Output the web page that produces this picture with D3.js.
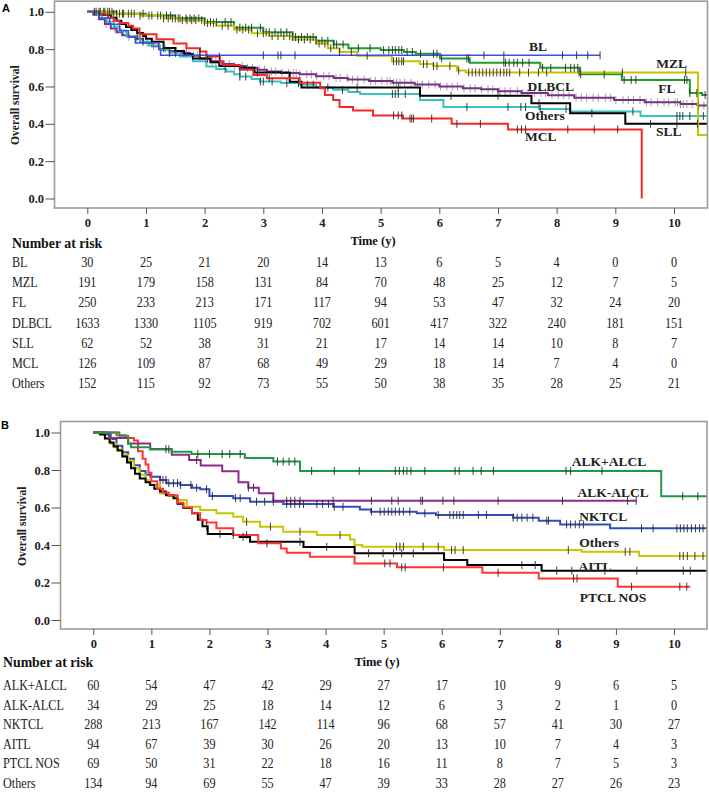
<!DOCTYPE html>
<html><head><meta charset="utf-8">
<script src="https://cdn.jsdelivr.net/npm/d3@7"></script>
<style>body{margin:0;background:#fff}svg{display:block}</style>
</head><body><svg id="c" width="709" height="793"></svg>
<script>
// ---------------- DATA ----------------
const timeTicks = [0,1,2,3,4,5,6,7,8,9,10];
const survTicks = [0,0.2,0.4,0.6,0.8,1.0];

// Panel A groups
const groupsA = ["BL","MZL","FL","DLBCL","SLL","MCL","Others"];
const riskA_BL     = [30,25,21,20,14,13,6,5,4,0,0];
const riskA_MZL    = [191,179,158,131,84,70,48,25,12,7,5];
const riskA_FL     = [250,233,213,171,117,94,53,47,32,24,20];
const riskA_DLBCL  = [1633,1330,1105,919,702,601,417,322,240,181,151];
const riskA_SLL    = [62,52,38,31,21,17,14,14,10,8,7];
const riskA_MCL    = [126,109,87,68,49,29,18,14,7,4,0];
const riskA_Others = [152,115,92,73,55,50,38,35,28,25,21];

// KM steps [time, survival after drop]
const curveA_BL = [[0,1],[0.2,0.967],[0.38,0.933],[0.55,0.9],[0.7,0.867],[0.82,0.833],[1.22,0.8],[1.25,0.767]];
const endA_BL = 8.74;
const censA_BL = [1.92,3.0,3.25,3.3,3.54,6.76,7.1,8.1,8.34,8.53,8.74];

const curveA_MZL = [[0,1],[0.4,0.99],[0.9,0.98],[1.3,0.965],[1.6,0.955],[2.0,0.94],[2.2,0.925],[2.5,0.905],[2.8,0.885],[3.1,0.87],[3.5,0.852],[3.9,0.83],[4.1,0.805],[4.3,0.785],[4.6,0.765],[5.19,0.735],[5.67,0.72],[5.9,0.71],[6.3,0.686],[6.45,0.675],[10.41,0.34]];
const endA_MZL = 10.58;
const censA_MZL = [0.15,0.22,0.3,0.38,0.45,0.55,0.62,0.75,0.9,1.05,1.2,1.3,1.38,1.45,1.55,1.62,1.7,1.78,1.85,1.95,2.05,2.15,2.3,2.4,2.55,2.65,2.75,2.9,3.0,3.15,3.25,3.35,3.45,3.6,3.7,3.8,3.95,4.05,4.15,4.3,4.5,4.77,5.22,5.27,5.31,5.36,5.39,5.73,5.79,5.9,5.96,6.18,6.33,6.5,6.56,6.62,6.68,6.74,6.8,6.86,6.92,6.98,7.04,7.1,7.15,7.2,7.37,7.52,7.69,7.83,8.38,9.12,10.2];

const curveA_FL = [[0,1],[0.5,0.99],[1.0,0.98],[1.5,0.965],[2.0,0.945],[2.5,0.915],[3.0,0.89],[3.5,0.865],[3.9,0.845],[4.2,0.825],[4.45,0.805],[5.0,0.795],[5.4,0.785],[5.6,0.775],[6.01,0.75],[6.52,0.727],[7.72,0.70],[8.40,0.665],[9.11,0.635],[10.27,0.565],[10.48,0.555]];
const endA_FL = 10.58;
const censA_FL = [0.12,0.2,0.28,0.35,0.42,0.5,0.6,0.7,0.8,0.95,1.1,1.25,1.35,1.42,1.5,1.58,1.68,1.75,1.82,1.9,2.0,2.1,2.2,2.35,2.45,2.6,2.7,2.8,2.95,3.05,3.1,3.2,3.3,3.4,3.5,3.55,3.65,3.75,3.85,3.9,4.0,4.1,4.2,4.25,4.36,4.62,4.82,5.05,5.14,5.2,5.25,5.31,5.36,5.45,5.54,5.68,5.9,5.96,6.04,6.47,6.5,7.1,7.13,7.19,7.27,7.33,7.42,7.53,7.76,7.9,8.15,8.24,8.3,8.36,8.41,8.81,9.15,9.27,9.35,10.18,10.22,10.27,10.39,10.53];

const curveA_DLBCL = [[0,1],[0.1,0.985],[0.2,0.96],[0.3,0.935],[0.4,0.91],[0.5,0.89],[0.6,0.875],[0.7,0.865],[0.82,0.855],[0.95,0.835],[1.1,0.815],[1.24,0.8],[1.4,0.79],[1.58,0.78],[1.75,0.765],[1.92,0.75],[2.1,0.735],[2.3,0.72],[2.49,0.71],[2.7,0.7],[2.9,0.69],[3.06,0.68],[3.3,0.672],[3.62,0.665],[3.9,0.655],[4.2,0.645],[4.44,0.637],[4.8,0.63],[5.2,0.62],[5.58,0.61],[6.0,0.6],[6.4,0.59],[6.71,0.585],[7.0,0.575],[7.4,0.565],[7.85,0.553],[8.3,0.54],[8.98,0.528],[9.5,0.515],[10.11,0.506],[10.4,0.498]];
const endA_DLBCL = 10.58;
const censA_DLBCL = [0.32,0.47,0.58,0.71,0.83,0.9,1.02,1.13,1.21,1.33,1.41,1.52,1.63,1.69,1.81,1.88,2.02,2.13,2.19,2.33,2.42,2.51,2.64,2.73,2.82,2.93,3.02,3.14,3.21,3.32,3.43,3.51,3.56,3.62,3.74,3.82,3.91,4.03,4.12,4.24,4.31,4.43,4.52,4.61,4.72,4.83,4.91,5.02,5.11,5.16,5.22,5.27,5.33,5.41,5.52,5.63,5.71,5.82,5.93,6.02,6.13,6.22,6.31,6.42,6.53,6.61,6.72,6.83,6.91,7.03,7.12,7.21,7.33,7.42,7.51,7.62,7.73,7.81,7.92,8.03,8.12,8.21,8.33,8.42,8.51,8.62,8.71,8.83,8.92,9.01,9.13,9.22,9.31,9.42,9.53,9.61,9.72,9.83,9.91,10.02,10.06,10.11,10.16,10.22,10.31,10.42,10.51];

const curveA_SLL = [[0,1],[0.25,0.984],[0.4,0.968],[0.5,0.952],[0.58,0.935],[0.66,0.919],[0.75,0.903],[0.85,0.887],[0.95,0.871],[1.0,0.855],[1.1,0.839],[1.3,0.806],[1.5,0.79],[1.65,0.774],[1.8,0.75],[2.1,0.73],[2.25,0.71],[2.6,0.7],[2.85,0.675],[3.45,0.626],[3.65,0.594],[5.67,0.55],[7.57,0.51],[8.23,0.457],[9.17,0.4]];
const endA_SLL = 10.58;
const censA_SLL = [1.3,2.05,2.9,4.6,5.3,6.2,7.0,7.7,8.6,9.6,10.05,10.4];

const curveA_MCL = [[0,1],[0.25,0.984],[0.35,0.968],[0.45,0.952],[0.55,0.94],[0.7,0.925],[0.78,0.91],[0.89,0.88],[1.18,0.853],[1.47,0.83],[1.69,0.805],[1.92,0.787],[2.03,0.76],[2.26,0.733],[2.32,0.715],[2.6,0.69],[2.83,0.661],[3.06,0.644],[3.62,0.62],[3.97,0.59],[4.05,0.555],[4.19,0.528],[4.3,0.49],[4.53,0.471],[4.87,0.445],[5.38,0.428],[6.21,0.4],[7.17,0.37],[9.45,0]];
const endA_MCL = 9.45;
const censA_MCL = [1.92,2.25,2.6,3.1,5.22,5.3,5.36,5.5,5.53,5.56,5.87,6.3,6.7,7.33,7.4,7.47,8.19,8.64,9.04];

const curveA_Others = [[0,1],[0.15,0.987],[0.25,0.967],[0.33,0.947],[0.45,0.92],[0.55,0.895],[0.67,0.868],[0.9,0.84],[1.05,0.82],[1.24,0.796],[1.4,0.78],[1.58,0.76],[1.8,0.735],[2.03,0.707],[2.2,0.693],[2.37,0.68],[2.5,0.666],[2.6,0.653],[2.8,0.64],[2.94,0.627],[3.3,0.618],[3.62,0.609],[3.9,0.595],[4.19,0.582],[4.45,0.57],[4.65,0.56],[5.67,0.528],[6.07,0.49],[7.7,0.48],[8.23,0.466],[9.43,0.442]];
const endA_Others = 10.58;
const censA_Others = [0.85,0.95,1.4,1.5,2.35,2.6,2.7,2.95,3.0,3.15,3.4,3.6,3.75,3.85,4.1,4.35,5.2,5.25,5.3,5.42,6.47,7.17,7.39,7.47,7.72,8.16,9.3,10.05,10.1,10.15,10.27,10.5];

// Panel B groups
const groupsB = ["ALK+ALCL","ALK-ALCL","NKTCL","AITL","PTCL NOS","Others"];
const riskB_ALKp   = [60,54,47,42,29,27,17,10,9,6,5];
const riskB_ALKm   = [34,29,25,18,14,12,6,3,2,1,0];
const riskB_NKTCL  = [288,213,167,142,114,96,68,57,41,30,27];
const riskB_AITL   = [94,67,39,30,26,20,13,10,7,4,3];
const riskB_PTCL   = [69,50,31,22,18,16,11,8,7,5,3];
const riskB_Others = [134,94,69,55,47,39,33,28,27,26,23];

const curveB_ALKp = [[0,1],[0.45,0.983],[0.6,0.94],[0.65,0.921],[0.98,0.91],[1.35,0.898],[1.69,0.885],[2.61,0.864],[3.1,0.845],[3.56,0.795],[9.78,0.66]];
const endB_ALKp = 10.57;
const censB_ALKp = [1.3,1.8,2.0,2.22,2.35,2.53,3.17,3.27,3.37,3.47,3.76,4.15,4.58,5.2,5.27,5.34,5.4,5.47,5.71,6.23,6.3,6.54,6.68,6.89,8.14,8.22,8.76,10.15,10.41];

const curveB_ALKm = [[0,1],[0.27,0.971],[0.6,0.941],[0.98,0.912],[1.35,0.882],[1.65,0.853],[1.85,0.824],[2.22,0.794],[2.5,0.735],[2.67,0.706],[2.85,0.676],[3.1,0.636]];
const endB_ALKm = 9.35;
const censB_ALKm = [1.25,1.78,2.67,2.76,3.33,3.4,3.47,3.56,4.13,4.79,5.14,5.25,5.64,5.67,6.02,6.21,6.97,8.08,9.2,9.35];

const curveB_NKTCL = [[0,1],[0.2,0.99],[0.3,0.965],[0.4,0.93],[0.5,0.895],[0.6,0.86],[0.7,0.825],[0.8,0.795],[0.9,0.775],[0.98,0.764],[1.15,0.747],[1.26,0.73],[1.5,0.72],[1.7,0.705],[1.84,0.697],[2.0,0.661],[2.41,0.65],[2.7,0.631],[3.27,0.619],[4.13,0.604],[4.59,0.59],[4.78,0.578],[5.57,0.569],[5.9,0.56],[7.23,0.546],[7.67,0.53],[8.04,0.51],[8.9,0.489]];
const endB_NKTCL = 10.57;
const censB_NKTCL = [1.15,1.2,1.25,1.3,1.38,1.45,1.5,1.68,1.78,1.95,2.05,2.45,2.53,2.81,2.95,3.1,3.33,3.4,3.47,3.55,3.62,3.85,3.95,4.05,4.15,4.3,4.79,4.94,5.01,5.08,5.14,5.2,5.27,5.34,5.45,5.71,5.94,6.14,6.2,6.26,6.31,6.37,6.63,6.77,7.23,7.3,7.38,7.47,7.57,7.81,7.84,8.15,8.22,8.3,8.37,8.44,9.44,9.64,10.05,10.11,10.17,10.23,10.3,10.37,10.44,10.5];

const curveB_AITL = [[0,1],[0.12,0.989],[0.2,0.968],[0.28,0.947],[0.35,0.926],[0.42,0.904],[0.5,0.872],[0.58,0.84],[0.65,0.81],[0.72,0.78],[0.8,0.755],[0.9,0.735],[0.98,0.72],[1.05,0.7],[1.15,0.685],[1.25,0.665],[1.38,0.65],[1.45,0.62],[1.55,0.597],[1.7,0.57],[1.8,0.535],[1.88,0.5],[1.97,0.459],[2.41,0.453],[2.52,0.443],[2.7,0.418],[3.62,0.39],[4.5,0.356],[6.04,0.32],[6.44,0.293],[7.72,0.263]];
const endB_AITL = 10.57;
const censB_AITL = [1.95,2.18,2.41,2.58,3.56,4.02,4.74,4.99,5.17,5.31,5.51,7.38,7.61,7.98,8.24,8.81,9.36,10.16,10.28];

const curveB_PTCL = [[0,1],[0.4,0.986],[0.55,0.971],[0.7,0.957],[0.77,0.9],[0.85,0.86],[0.9,0.83],[0.95,0.785],[1.0,0.74],[1.1,0.7],[1.2,0.68],[1.3,0.665],[1.45,0.625],[1.55,0.6],[1.7,0.57],[1.84,0.533],[1.95,0.52],[2.12,0.49],[2.41,0.453],[2.84,0.409],[3.23,0.382],[3.33,0.359],[3.73,0.338],[4.5,0.302],[5.23,0.281],[6.7,0.252],[7.67,0.222],[9.03,0.178]];
const endB_PTCL = 10.28;
const censB_PTCL = [2.64,2.99,5.02,5.11,5.31,5.37,6.03,6.97,8.27,8.33,9.27,10.1,10.22];

const curveB_Others = [[0,1],[0.1,0.993],[0.2,0.97],[0.3,0.94],[0.4,0.91],[0.5,0.88],[0.6,0.85],[0.7,0.81],[0.8,0.775],[0.9,0.745],[0.97,0.72],[1.15,0.675],[1.3,0.66],[1.44,0.64],[1.61,0.604],[1.84,0.587],[2.12,0.569],[2.41,0.551],[2.58,0.524],[2.87,0.498],[3.27,0.471],[3.85,0.453],[4.42,0.43],[4.5,0.4],[4.63,0.391],[6.04,0.373],[8.41,0.364],[9.4,0.341]];
const endB_Others = 10.57;
const censB_Others = [2.64,3.05,3.56,4.25,5.22,5.28,5.34,5.68,5.94,6.17,6.23,6.37,8.18,9.16,9.24,10.1,10.16,10.23,10.36,10.5];

// ---------------- DRAW ----------------
const svg = d3.select("#c");
const SERIF = "'Liberation Serif','Times New Roman',serif";

function survAt(curve, t){ let s = 1; for (const [ti, si] of curve) if (ti <= t) s = si; return s; }

function drawPanel(p){
  const g = svg.append("g");
  const x = d3.scaleLinear().domain([0,10]).range(p.xr);
  const y = d3.scaleLinear().domain([0,1]).range(p.yr);
  const F = p.frame;
  const clipId = "clip" + p.id;
  svg.append("clipPath").attr("id", clipId).append("rect")
    .attr("x", F.l).attr("y", F.t).attr("width", F.r - F.l).attr("height", F.b - F.t);

  g.append("text").attr("x", p.letterPos[0]).attr("y", p.letterPos[1])
    .attr("font-family", "'Liberation Sans',Arial,sans-serif").attr("font-weight", "bold")
    .attr("font-size", 11).text(p.id);

  const cg = g.append("g").attr("clip-path", `url(#${clipId})`);
  const line = d3.line().x(d => x(d[0])).y(d => y(d[1])).curve(d3.curveStepAfter);
  p.series.forEach(s => {
    const pts = s.curve.concat([[s.end, s.curve[s.curve.length-1][1]]]);
    cg.append("path").attr("d", line(pts)).attr("fill", "none")
      .attr("stroke", s.color).attr("stroke-width", s.w || 2);
  });
  p.series.forEach(s => {
    cg.append("g").selectAll("line").data(s.cens).join("line")
      .attr("x1", d => x(d)).attr("x2", d => x(d))
      .attr("y1", d => y(survAt(s.curve, d)) - 4).attr("y2", d => y(survAt(s.curve, d)) + 4)
      .attr("stroke", s.tickColor || "#2a2a2a").attr("stroke-width", 1)
      .attr("opacity", s.tickOpacity || 0.9);
  });

  g.append("rect").attr("x", F.l).attr("y", F.t).attr("width", F.r - F.l).attr("height", F.b - F.t)
    .attr("fill", "none").attr("stroke", "#9c9c9c").attr("stroke-width", 1.6);

  const ya = g.append("g").attr("transform", `translate(${F.l},0)`)
    .call(d3.axisLeft(y).tickValues(survTicks).tickFormat(d3.format(".1f")).tickSize(9).tickPadding(1.5));
  ya.select(".domain").remove();
  ya.selectAll("line").attr("stroke", "#555");
  ya.selectAll("text").attr("font-family", SERIF).attr("font-weight", "bold").attr("font-size", 12.5).attr("fill", "#222");

  const xa = g.append("g").attr("transform", `translate(0,${F.b})`)
    .call(d3.axisBottom(x).tickValues(timeTicks).tickSize(6).tickPadding(4));
  xa.select(".domain").remove();
  xa.selectAll("line").attr("stroke", "#555");
  xa.selectAll("text").attr("font-family", SERIF).attr("font-weight", "bold").attr("font-size", 12.5).attr("fill", "#222");

  const yc = (p.yr[0] + p.yr[1]) / 2;
  g.append("text").attr("transform", `translate(${p.yTitleX},${yc}) rotate(-90)`)
    .attr("text-anchor", "middle").attr("dy", "0.35em")
    .attr("font-family", SERIF).attr("font-weight", "bold").attr("font-size", 11.5).attr("fill", "#222")
    .text("Overall survival");

  g.append("text").attr("x", p.xTitle[0]).attr("y", p.xTitle[1]).attr("text-anchor", "middle")
    .attr("font-family", SERIF).attr("font-weight", "bold").attr("font-size", 12.5).attr("fill", "#111")
    .text("Time (y)");

  p.series.forEach(s => {
    g.append("text").attr("x", x(s.lab[0])).attr("y", y(s.lab[1])).attr("dy", "0.35em")
      .attr("text-anchor", "middle").attr("font-family", SERIF).attr("font-weight", "bold")
      .attr("font-size", 13.5).attr("fill", "#222").text(s.name);
  });

  g.append("text").attr("transform", `translate(${p.rowX},${p.narY}) scale(0.92,1)`)
    .attr("font-family", SERIF).attr("font-weight", "bold").attr("font-size", 15).attr("fill", "#111")
    .text("Number at risk");
  p.series.slice().sort((a,b) => a.row - b.row).forEach(s => {
    const yy = p.row0 + s.row * p.rowStep;
    g.append("text").attr("transform", `translate(${p.rowX},${yy}) scale(0.84,1)`)
      .attr("font-family", SERIF).attr("font-size", 14.5).attr("fill", "#222").text(s.name);
    s.risk.forEach((v, i) => {
      g.append("text").attr("transform", `translate(${x(timeTicks[i])},${yy}) scale(0.84,1)`)
        .attr("text-anchor", "middle").attr("font-family", SERIF).attr("font-size", 14.5).attr("fill", "#222")
        .text(v);
    });
  });
}

drawPanel({
  id: "A", letterPos: [2, 12],
  frame: {l: 54.5, r: 707.5, t: 1.2, b: 208},
  xr: [87.3, 674.0], yr: [198.5, 11.8],
  yTitleX: 15, xTitle: [373, 244.5],
  rowX: 12, narY: 248, row0: 267, rowStep: 20.2,
  series: [
    {name:"DLBCL", color:"#7b2d8b", curve:curveA_DLBCL, end:endA_DLBCL, cens:censA_DLBCL, risk:riskA_DLBCL, row:3, lab:[7.9,0.603], tickColor:"#555", tickOpacity:0.55},
    {name:"Others", color:"#3cc0c0", curve:curveA_Others, end:endA_Others, cens:censA_Others, risk:riskA_Others, row:6, lab:[7.8,0.448]},
    {name:"SLL", color:"#000000", curve:curveA_SLL, end:endA_SLL, cens:censA_SLL, risk:riskA_SLL, row:4, lab:[9.91,0.358]},
    {name:"MCL", color:"#f42828", curve:curveA_MCL, end:endA_MCL, cens:censA_MCL, risk:riskA_MCL, row:5, lab:[7.73,0.335]},
    {name:"FL", color:"#1f9a35", curve:curveA_FL, end:endA_FL, cens:censA_FL, risk:riskA_FL, row:2, lab:[9.88,0.591]},
    {name:"MZL", color:"#c4c400", curve:curveA_MZL, end:endA_MZL, cens:censA_MZL, risk:riskA_MZL, row:1, lab:[9.96,0.725]},
    {name:"BL", color:"#3d4fe8", curve:curveA_BL, end:endA_BL, cens:censA_BL, risk:riskA_BL, row:0, lab:[7.68,0.814], w:1.6}
  ]
});

drawPanel({
  id: "B", letterPos: [1, 429],
  frame: {l: 60.5, r: 707, t: 421.5, b: 629},
  xr: [93.3, 674.0], yr: [620, 432.5],
  yTitleX: 22, xTitle: [377, 666],
  rowX: 3, narY: 667, row0: 690, rowStep: 19.6,
  series: [
    {name:"NKTCL", color:"#2f4fb8", curve:curveB_NKTCL, end:endB_NKTCL, cens:censB_NKTCL, risk:riskB_NKTCL, row:2, lab:[8.78,0.551]},
    {name:"Others", color:"#c8c800", curve:curveB_Others, end:endB_Others, cens:censB_Others, risk:riskB_Others, row:5, lab:[8.71,0.412]},
    {name:"AITL", color:"#000000", curve:curveB_AITL, end:endB_AITL, cens:censB_AITL, risk:riskB_AITL, row:3, lab:[8.64,0.288]},
    {name:"PTCL NOS", color:"#ff3535", curve:curveB_PTCL, end:endB_PTCL, cens:censB_PTCL, risk:riskB_PTCL, row:4, lab:[8.95,0.123]},
    {name:"ALK-ALCL", color:"#8b2c8d", curve:curveB_ALKm, end:endB_ALKm, cens:censB_ALKm, risk:riskB_ALKm, row:1, lab:[8.95,0.679]},
    {name:"ALK+ALCL", color:"#1d9a48", curve:curveB_ALKp, end:endB_ALKp, cens:censB_ALKp, risk:riskB_ALKp, row:0, lab:[8.88,0.848]}
  ]
});
</script></body></html>
